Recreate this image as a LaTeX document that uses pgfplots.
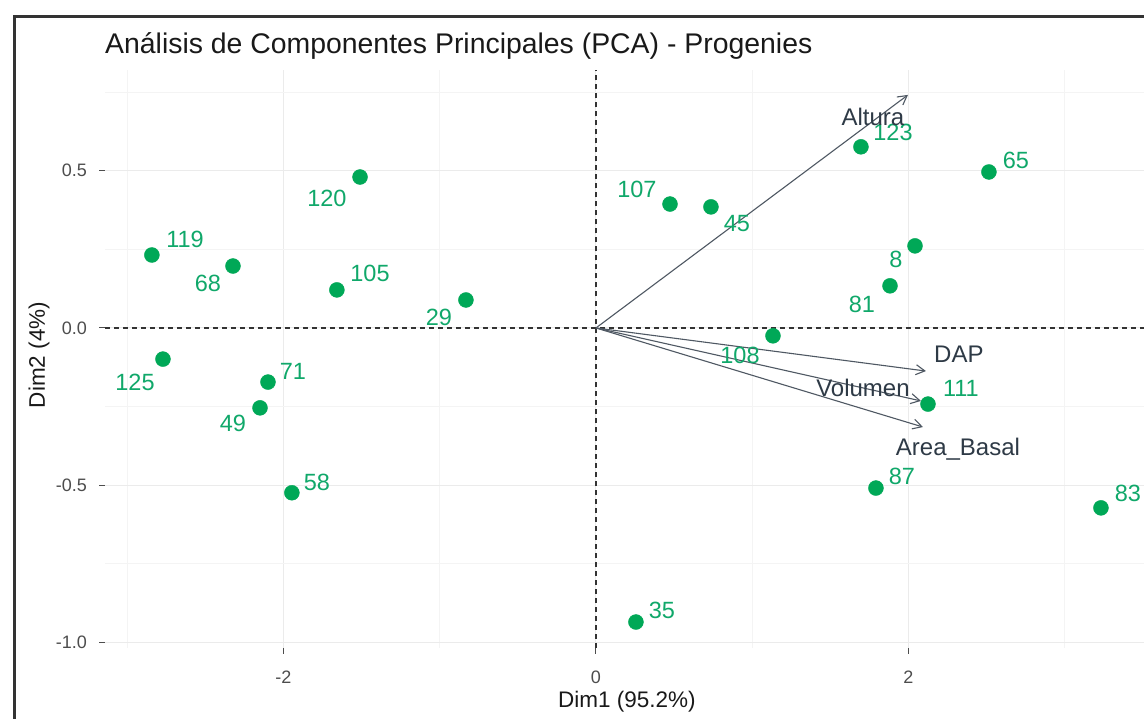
\documentclass[border=0pt]{standalone}
\usepackage{fontspec}
\setmainfont{Liberation Sans}
\usepackage{pgfplots}
\pgfplotsset{compat=1.18}
\usetikzlibrary{arrows.meta}
\definecolor{ptgreen}{HTML}{00A857}
\definecolor{labgreen}{HTML}{10A86A}
\definecolor{varcol}{HTML}{4F5863}
\definecolor{vartxt}{HTML}{2E3A46}
\definecolor{tickgray}{HTML}{4D4D4D}
\definecolor{gridmaj}{HTML}{EBEBEB}
\definecolor{gridmin}{HTML}{F4F4F4}
\pgfplotstableread{
x y
-1.510 0.480
-2.842 0.232
-2.323 0.197
-1.658 0.121
-0.832 0.089
-2.771 -0.099
-2.099 -0.172
-2.150 -0.254
-1.946 -0.524
0.256 -0.935
0.474 0.394
0.736 0.385
1.696 0.576
2.515 0.496
2.042 0.261
1.882 0.134
1.133 -0.025
2.125 -0.242
1.792 -0.509
3.232 -0.572
}\individuals
\newcommand{\plab}[3]{\node[anchor=center,inner sep=0pt,text=labgreen,font=\fontsize{23.5}{28}\selectfont] at (axis cs:#1,#2) {#3};}
\newcommand{\vlab}[3]{\node[anchor=center,inner sep=0pt,text=vartxt,font=\fontsize{24}{29}\selectfont] at (axis cs:#1,#2) {#3};}
\begin{document}
\begin{tikzpicture}
\useasboundingbox (0pt,0pt) rectangle (1144pt,-719pt);
\clip (0pt,0pt) rectangle (1144pt,-719pt);
\fill[white] (0pt,0pt) rectangle (1144pt,-719pt);
\begin{axis}[
  scale only axis,
  width=1043.4pt, height=577.9pt,
  at={(105pt,-647.5pt)}, anchor=south west,
  xmin=-3.142, xmax=3.536, ymin=-1.016, ymax=0.8215,
  clip=false,
  axis line style={draw=none},
  xtick={-2,0,2}, xticklabels={-2,0,2},
  ytick={-1,-0.5,0,0.5}, yticklabels={-1.0,-0.5,0.0,0.5},
  minor xtick={-3,-1,1,3}, minor ytick={-0.75,-0.25,0.25,0.75},
  grid=both,
  major grid style={color=gridmaj, line width=1pt},
  minor grid style={color=gridmin, line width=0.9pt},
  tick align=outside,
  major tick length=6pt, minor tick length=0pt,
  tick style={color=tickgray, line width=1pt},
  xtick pos=bottom, ytick pos=left,
  xticklabel style={font=\fontsize{18}{22}\selectfont, text=tickgray, inner sep=0pt, anchor=north},
  yticklabel style={font=\fontsize{18}{22}\selectfont, text=tickgray, inner sep=0pt, anchor=east},
  xticklabel shift=17pt,
  yticklabel shift=12pt,
]
\addplot[color=black!80, line width=1.3pt, dash pattern=on 5pt off 4pt] coordinates {(0,-1.016) (0,0.8215)};
\addplot[color=black!80, line width=1.3pt, dash pattern=on 5pt off 4pt] coordinates {(-3.142,0) (3.536,0)};
\addplot[color=varcol, line width=1.1pt, -{Straight Barb[length=9pt,width=10pt]}] coordinates {(0,0) (1.997,0.741)};
\addplot[color=varcol, line width=1.1pt, -{Straight Barb[length=9pt,width=10pt]}] coordinates {(0,0) (2.112,-0.137)};
\addplot[color=varcol, line width=1.1pt, -{Straight Barb[length=9pt,width=10pt]}] coordinates {(0,0) (2.080,-0.232)};
\addplot[color=varcol, line width=1.1pt, -{Straight Barb[length=9pt,width=10pt]}] coordinates {(0,0) (2.093,-0.315)};
\addplot[only marks, mark=*, mark size=7.5pt, color=ptgreen, mark options={fill=ptgreen, draw=ptgreen}] table[x=x,y=y] {\individuals};
\plab{-1.722}{0.413}{120}
\plab{-2.630}{0.283}{119}
\plab{-2.483}{0.143}{68}
\plab{-1.446}{0.172}{105}
\plab{-1.005}{0.035}{29}
\plab{-2.950}{-0.172}{125}
\plab{-1.939}{-0.137}{71}
\plab{-2.323}{-0.305}{49}
\plab{-1.786}{-0.490}{58}
\plab{0.422}{-0.897}{35}
\plab{0.262}{0.439}{107}
\plab{0.902}{0.331}{45}
\plab{1.901}{0.623}{123}
\plab{2.688}{0.534}{65}
\plab{1.920}{0.219}{8}
\plab{1.702}{0.076}{81}
\plab{0.922}{-0.086}{108}
\plab{2.336}{-0.191}{111}
\plab{1.958}{-0.471}{87}
\plab{3.405}{-0.525}{83}
\vlab{1.773}{0.671}{Altura}
\vlab{2.323}{-0.083}{DAP}
\vlab{1.709}{-0.191}{Volumen}
\vlab{2.317}{-0.385}{Area\_Basal}
\end{axis}
\node[anchor=base west, inner sep=0pt, font=\fontsize{28.4}{34}\selectfont, text=black!90] at (105pt,-54pt) {Análisis de Componentes Principales (PCA) - Progenies};
\node[anchor=center, inner sep=0pt, font=\fontsize{22.5}{27}\selectfont, text=black!90] at (627pt,-702pt) {Dim1 (95.2\%)};
\node[anchor=center, inner sep=0pt, rotate=90, font=\fontsize{22.5}{27}\selectfont, text=black!90] at (39pt,-355pt) {Dim2 (4\%)};
\draw[line width=2.5pt, color=black!80] (14.5pt,-800pt) -- (14.5pt,-16.5pt) -- (1200pt,-16.5pt);
\end{tikzpicture}
\end{document}
